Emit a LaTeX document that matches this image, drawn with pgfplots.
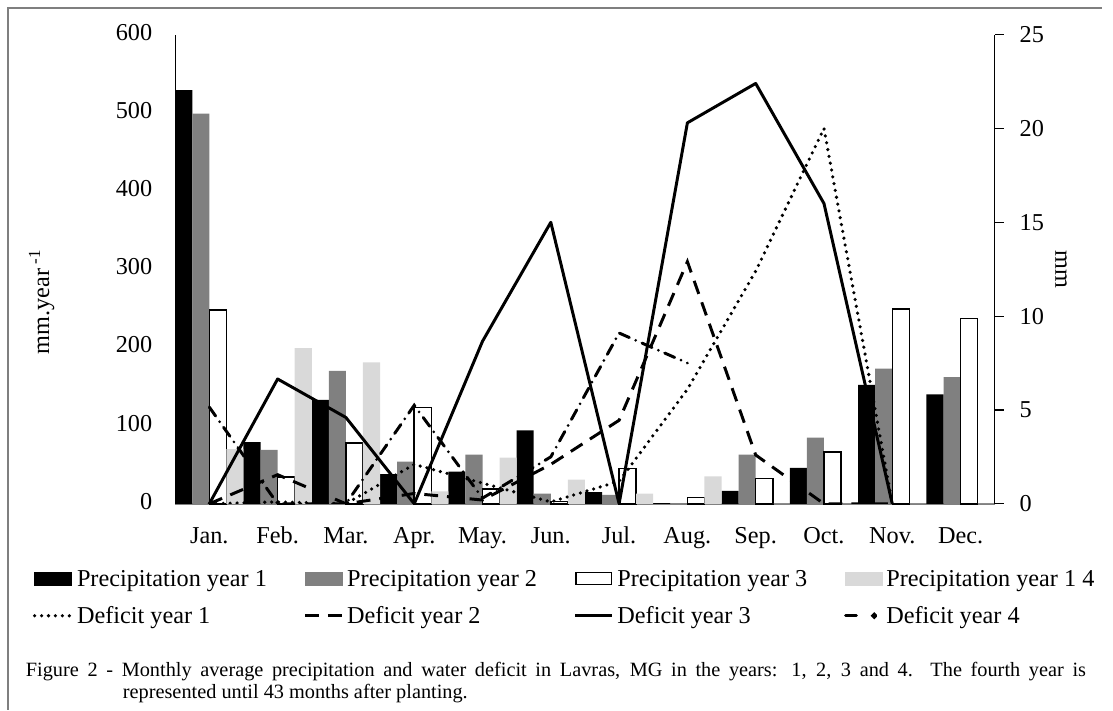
\documentclass[border=0pt]{standalone}
\usepackage{fontspec}
\setmainfont{Liberation Serif}
\usepackage{pgfplots}
\pgfplotsset{compat=1.18}
\definecolor{bargray}{HTML}{808080}
\definecolor{barlight}{HTML}{D9D9D9}
\definecolor{framegray}{HTML}{7F7F7F}
\newcommand{\lblfont}{\fontsize{24.5}{28}\selectfont}
\newcommand{\capfont}{\fontsize{20.5}{24}\selectfont}
\begin{document}
\begin{tikzpicture}[x=1pt,y=1pt]
\path (0,0) rectangle (1113,717);
\draw[framegray, line width=1.3pt] (8,0) -- (8,709) -- (1113,709);
% caption
\node[anchor=base west, inner sep=0pt, font=\capfont] at (26,33) {\makebox[1071pt][s]{Figure 2 - Monthly average precipitation and water deficit in Lavras, MG in the years: 1, 2, 3 and 4. The fourth year is}};
\node[anchor=base west, inner sep=0pt, font=\capfont] at (124,11) {represented until 43 months after planting.};

\begin{axis}[
  at={(177pt,208pt)}, anchor=south west,
  width=828pt, height=474pt, scale only axis,
  xmin=-0.5, xmax=11.5, ymin=0, ymax=600,
  axis x line*=bottom, axis y line*=left,
  x axis line style={-, draw=bargray, line width=1.5pt},
  y axis line style={-, black, line width=1pt},
  xtick={0,...,11},
  xticklabels={Jan.,Feb.,Mar.,Apr.,May.,Jun.,Jul.,Aug.,Sep.,Oct.,Nov.,Dec.},
  ytick={0,100,...,600},
  major tick length=0pt,
  /pgf/number format/assume math mode=true,
  tick label style={font=\lblfont, inner sep=0pt},
  xticklabel style={anchor=north, yshift=-20pt},
  yticklabel style={anchor=east, xshift=-23pt},
  typeset ticklabels with strut,
  ylabel={mm.year\,\textsuperscript{-1}},
  ylabel style={at={(axis description cs:-0.163,0.43)}, anchor=center, font=\lblfont},
  clip=false,
]
\addplot[ybar, bar width=0.25, bar shift=-0.375, fill=black, draw=none] coordinates {
(0,529) (1,79) (2,133) (3,38) (4,41) (5,94) (6,15) (7,0.8) (8,16.5) (9,46) (10,152) (11,140)};
\addplot[ybar, bar width=0.25, bar shift=-0.125, fill=bargray, draw=none] coordinates {
(0,499) (1,69) (2,170) (3,54) (4,63) (5,13) (6,11.5) (7,0.8) (8,63) (9,84.5) (10,173) (11,162)};
\addplot[ybar, bar width=0.25, bar shift=0.125, fill=white, draw=black, line width=1.5pt] coordinates {
(0,248) (1,34) (2,78) (3,123) (4,19) (5,3) (6,45) (7,8) (8,32.5) (9,66) (10,249) (11,237)};
\addplot[ybar, bar width=0.25, bar shift=0.375, fill=barlight, draw=none] coordinates {
(0,70) (1,199) (2,181) (3,16) (4,59) (5,31) (6,13) (7,35) (8,0) (9,0) (10,0) (11,0)};
\end{axis}

\begin{axis}[
  at={(177pt,208pt)}, anchor=south west,
  width=828pt, height=474pt, scale only axis,
  xmin=-0.5, xmax=11.5, ymin=0, ymax=25,
  axis x line=none, axis y line*=right,
  y axis line style={-, black, line width=1.5pt},
  ytick={0,5,...,25},
  tick align=outside, major tick length=9pt,
  major tick style={black, line width=1.2pt},
  /pgf/number format/assume math mode=true,
  yticklabel style={font=\lblfont, inner sep=0pt, anchor=west, xshift=16pt},
  ylabel={mm},
  ylabel style={at={(axis description cs:1.081,0.5)}, anchor=center, rotate=180, font=\lblfont},
  legend image code/.code={\draw[#1] (0pt,0pt) -- (37pt,0pt);},
  legend style={at={(axis description cs:-0.1739,-0.141)}, anchor=north west,
    draw=none, fill=none, inner sep=0pt, font=\lblfont, row sep=19pt,
    nodes={inner sep=0pt},
    /tikz/every odd column/.append style={column sep=4pt}},
  legend columns=4,
  legend cell align=left,
]
\addlegendimage{legend image code/.code={\fill[black] (0pt,-6pt) rectangle (37pt,7pt);}}
\addlegendentry{\makebox[229pt][l]{Precipitation year 1}}
\addlegendimage{legend image code/.code={\fill[bargray] (0pt,-6pt) rectangle (37pt,7pt);}}
\addlegendentry{\makebox[229pt][l]{Precipitation year 2}}
\addlegendimage{legend image code/.code={\filldraw[fill=white, draw=black, line width=1.2pt] (0.6pt,-5.4pt) rectangle (36.4pt,6.4pt);}}
\addlegendentry{\makebox[229pt][l]{Precipitation year 3}}
\addlegendimage{legend image code/.code={\fill[barlight] (0pt,-6pt) rectangle (37pt,7pt);}}
\addlegendentry{\makebox[229pt][l]{Precipitation year 1 4}}

\addplot[black, line width=3.6pt, line cap=round, dash pattern=on 0pt off 7pt] coordinates {
(0,0) (1,0.1) (2,0) (3,2.1) (4,1.1) (5,0.1) (6,1.2) (7,6.1) (8,12.4) (9,20.0) (10,0)};
\addlegendentry{Deficit year 1}
\addplot[black, line width=3pt, dash pattern=on 14pt off 9pt] coordinates {
(0,0) (1,1.55) (2,0) (3,0.55) (4,0.2) (5,2.1) (6,4.45) (7,12.9) (8,2.6) (9,0) (10,0)};
\addlegendentry{Deficit year 2}
\addplot[black, line width=3pt, line join=round] coordinates {
(0,0) (1,6.65) (2,4.6) (3,0) (4,8.66) (5,15.0) (6,0) (7,20.3) (8,22.4) (9,16.0) (10,0)};
\addlegendentry{Deficit year 3}
\addplot[black, line width=3pt, line cap=round, dash pattern=on 11pt off 7pt on 0pt off 7pt,
  legend image code/.code={\draw[black, line width=3pt] (0pt,0pt) -- (13pt,0pt); \fill[black] (29pt,0pt) circle (1.6pt);}] coordinates {
(0,5.15) (1,0) (2,0) (3,5.25) (4,0.3) (5,2.5) (6,9.1) (7,7.5)};
\addlegendentry{Deficit year 4}
\end{axis}
\end{tikzpicture}
\end{document}
